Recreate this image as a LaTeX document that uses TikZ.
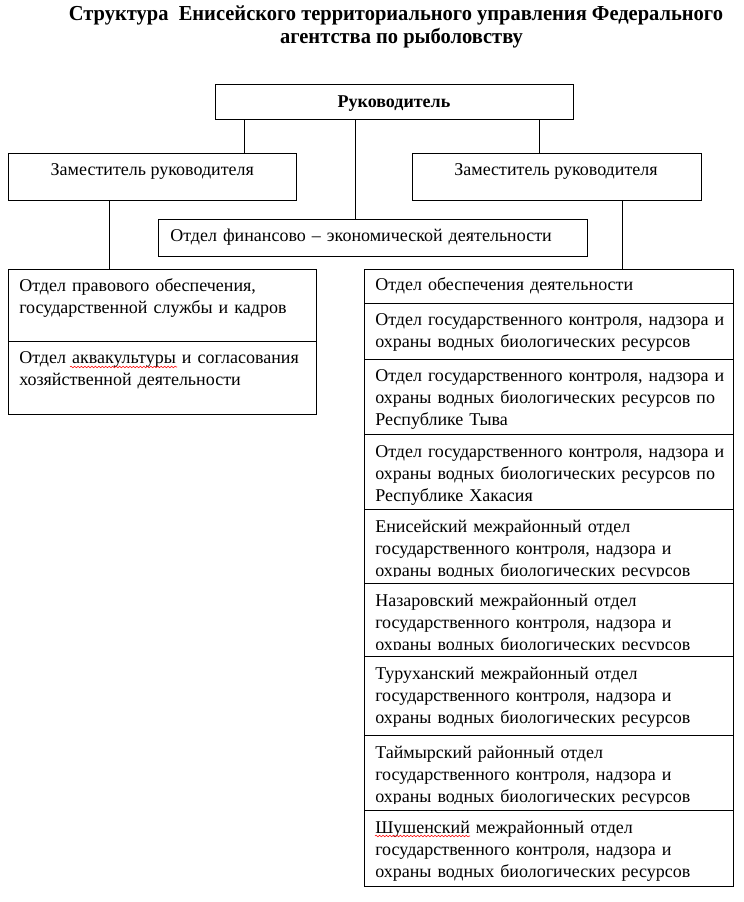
\documentclass[tikz,border=0pt]{standalone}
\usepackage{fontspec}
\setmainfont{Liberation Serif}
\newfontfamily\titlefont[FakeStretch=0.96]{Liberation Serif Bold}
\usetikzlibrary{fit,decorations.pathmorphing}
\begin{document}
\begin{tikzpicture}[x=0.75pt,y=-0.75pt,
  box/.style={draw, line width=0.75pt, fill=white, inner sep=0pt},
  link/.style={line width=0.75pt},
  lbl/.style={anchor=base west, inner sep=0pt, align=left, text width=360pt,
    font=\fontsize{13.5}{16.5}\selectfont},
  ctr/.style={anchor=base, inner sep=0pt, font=\fontsize{13.5}{16.5}\selectfont},
  ttl/.style={anchor=base, inner sep=0pt, font=\fontsize{16}{19}\titlefont},
  spell/.style={red, line width=0.4pt, decorate,
    decoration={snake, amplitude=0.6pt, segment length=2.6pt}}]
\useasboundingbox[fill=white] (0,0) rectangle (743,902);

% title
\node[ttl] (title1) at (396,20.5) {Структура\ \ Енисейского территориального управления Федерального};
\node[ttl] (title2) at (401.5,44) {агентства по рыболовству};

% top level
\node[box, fit={(215,85) (573,119.3)}] (ruk) {};
\node[ctr, font=\fontsize{13.5}{16.5}\selectfont\bfseries] (rukt) at (394,108) {Руководитель};

\node[box, fit={(8.5,153.3) (296.5,200.2)}] (dep1) {};
\node[ctr] (dep1t) at (152.3,176) {Заместитель руководителя};
\node[box, fit={(412.5,153.3) (701.5,200.2)}] (dep2) {};
\node[ctr] (dep2t) at (556,176) {Заместитель руководителя};

\node[box, fit={(158.3,219.3) (587.3,256.7)}] (fin) {};
\node[lbl] (fint) at (170,241.7) {Отдел финансово – экономической деятельности};

% connector x positions
\coordinate (c1) at (244.3,0);
\coordinate (c2) at (355.3,0);
\coordinate (c3) at (539.3,0);
\coordinate (c4) at (109.3,0);
\coordinate (c5) at (622.7,0);

% left group
\node[box, fit={(8.5,269.3) (316,341)}] (lg1) {};
\node[lbl] (lg1t) at (19,291.5) {Отдел правового обеспечения,\\государственной службы и кадров};
\node[box, fit={(8.5,341) (316,414)}] (lg2) {};
\node[lbl] (lg2t) at (19,363.3) {Отдел аквакультуры и согласования\\хозяйственной деятельности};
\draw[spell] (70,367) -- (177,367);

% right group
\node[box, fit={(364.5,269.3) (733,303)}] (r1) {};
\node[lbl] (r1t) at (375,290.7) {Отдел обеспечения деятельности};

\node[box, fit={(364.5,303) (733,359)}] (r2) {};
\node[lbl] (r2t) at (375,325.5) {Отдел государственного контроля, надзора и\\охраны водных биологических ресурсов};

\node[box, fit={(364.5,359) (733,434)}] (r3) {};
\node[lbl] (r3t) at (375,381.5) {Отдел государственного контроля, надзора и\\охраны водных биологических ресурсов по\\Республике Тыва};

\node[box, fit={(364.5,434) (733,509)}] (r4) {};
\node[lbl] (r4t) at (375,457.3) {Отдел государственного контроля, надзора и\\охраны водных биологических ресурсов по\\Республике Хакасия};

\node[box, fit={(364.5,509) (733,583.5)}] (r5) {};
\begin{scope}
\clip (364.5,509) rectangle (733,576);
\node[lbl] (r5t) at (375,532) {Енисейский межрайонный отдел\\государственного контроля, надзора и\\охраны водных биологических ресурсов};
\end{scope}

\node[box, fit={(364.5,583.5) (733,656)}] (r6) {};
\begin{scope}
\clip (364.5,583.5) rectangle (733,649.5);
\node[lbl] (r6t) at (375,606) {Назаровский межрайонный отдел\\государственного контроля, надзора и\\охраны водных биологических ресурсов};
\end{scope}

\node[box, fit={(364.5,656) (733,735)}] (r7) {};
\node[lbl] (r7t) at (375,679.5) {Туруханский межрайонный отдел\\государственного контроля, надзора и\\охраны водных биологических ресурсов};

\node[box, fit={(364.5,735) (733,810.5)}] (r8) {};
\begin{scope}
\clip (364.5,735) rectangle (733,803.5);
\node[lbl] (r8t) at (375,758) {Таймырский районный отдел\\государственного контроля, надзора и\\охраны водных биологических ресурсов};
\end{scope}

\node[box, fit={(364.5,810.5) (733,886)}] (r9) {};
\node[lbl] (r9t) at (375,833) {Шушенский межрайонный отдел\\государственного контроля, надзора и\\охраны водных биологических ресурсов};
\draw[spell] (375,836) -- (470,836);

% connector lines
\draw[link] (ruk.south -| c1) -- (dep1.north -| c1);
\draw[link] (ruk.south -| c2) -- (fin.north -| c2);
\draw[link] (ruk.south -| c3) -- (dep2.north -| c3);
\draw[link] (dep1.south -| c4) -- (lg1.north -| c4);
\draw[link] (dep2.south -| c5) -- (r1.north -| c5);
\end{tikzpicture}
\end{document}
